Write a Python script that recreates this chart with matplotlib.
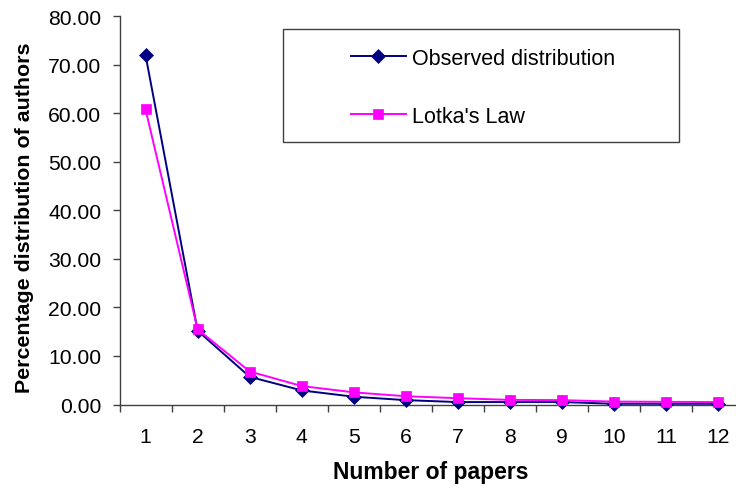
import matplotlib
matplotlib.use("Agg")
import matplotlib.pyplot as plt
from matplotlib.patches import Rectangle
from matplotlib.ticker import FixedLocator, FormatStrFormatter, NullFormatter

# Data
papers = [1, 2, 3, 4, 5, 6, 7, 8, 9, 10, 11, 12]
observed = [72.0, 15.2, 5.7, 2.9, 1.6, 0.9, 0.5, 0.5, 0.5, 0.15, 0.15, 0.15]
lotka = [60.8, 15.5, 6.8, 3.8, 2.5, 1.7, 1.3, 0.95, 0.9, 0.6, 0.55, 0.5]
series_labels = ["Observed distribution", "Lotka's Law"]
x_label = "Number of papers"
y_label = "Percentage distribution of authors"
y_ticks = [0, 10, 20, 30, 40, 50, 60, 70, 80]

plt.rcParams['font.family'] = ['Liberation Sans', 'DejaVu Sans']

W, H = 736, 489
fig = plt.figure(figsize=(W / 100, H / 100), dpi=100)
left, right, top, bottom = 119.5, 744.5, 17.3, 405.5
ax = fig.add_axes([left / W, 1 - bottom / H, (right - left) / W, (bottom - top) / H])

navy = '#000080'
mag = '#FF00FF'
l1, = ax.plot(papers, observed, color=navy, lw=1.4, marker='D', ms=6.8,
              mfc=navy, mec=navy, mew=0.5, clip_on=False, zorder=3)
l2, = ax.plot(papers, lotka, color=mag, lw=1.4, marker='s', ms=7.8,
              mfc=mag, mec=mag, mew=0.5, clip_on=False, zorder=4)

ax.set_xlim(0.5, 12.5)
ax.set_ylim(0, 80)

for s in ['top', 'right']:
    ax.spines[s].set_visible(False)
for s in ['left', 'bottom']:
    ax.spines[s].set_color('#404040')
    ax.spines[s].set_linewidth(1.0)

ax.yaxis.set_major_locator(FixedLocator(y_ticks))
ax.yaxis.set_major_formatter(FormatStrFormatter('%.2f'))
ax.tick_params(axis='y', direction='out', length=5, width=1.0, color='#404040',
               labelsize=15.2, pad=8)

ax.set_xticks(papers)
ax.set_xticklabels([str(p) for p in papers])
ax.xaxis.set_minor_locator(FixedLocator([p + 0.5 for p in [0] + papers]))
ax.xaxis.set_minor_formatter(NullFormatter())
ax.tick_params(axis='x', which='major', length=0, labelsize=15.2, pad=16)
ax.tick_params(axis='x', which='minor', direction='out', length=5, width=1.0, color='#404040')

ax.set_xlabel(x_label, fontsize=16.5, fontweight='bold', va='center')
ax.xaxis.set_label_coords((430.5 - left) / (right - left), -(473 - bottom) / (bottom - top))
ax.set_ylabel(y_label, fontsize=15.4, fontweight='bold', va='center')
ax.yaxis.set_label_coords((24 - left) / (right - left), (bottom - 218) / (bottom - top))

# legend frame
fig.patches.append(Rectangle((283 / W, 1 - 143 / H), (679 - 283) / W, (143 - 30) / H,
                             transform=fig.transFigure, fill=False,
                             edgecolor='#404040', lw=1.0, zorder=5))
leg = ax.legend([l1, l2], series_labels, loc='upper left',
                bbox_to_anchor=(351 / W, 1 - 49 / H), bbox_transform=fig.transFigure,
                frameon=False, fontsize=15.5, borderpad=0, borderaxespad=0,
                handlelength=2.55, handletextpad=0.3, labelspacing=1.72,
                numpoints=1)

fig.savefig('out.png', dpi=100)
